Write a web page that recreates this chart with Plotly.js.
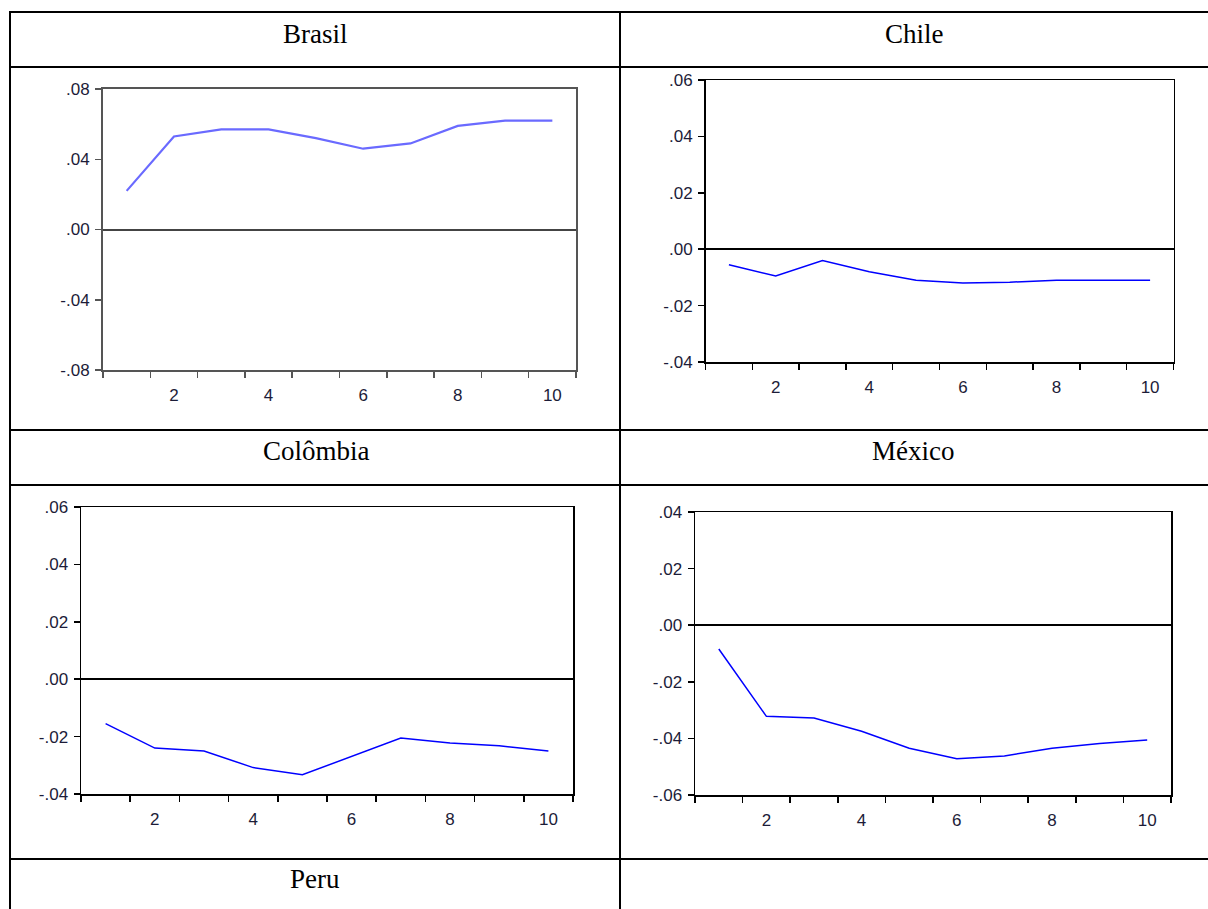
<!DOCTYPE html>
<html>
<head>
<meta charset="utf-8">
<script src="https://cdn.plot.ly/plotly-3.0.1.min.js"></script>
<style>
html,body{margin:0;padding:0;background:#fff;}
#chart{width:1208px;height:909px;}
</style>
</head>
<body>
<div id="chart"></div>
<script>
// ---- data ----
const periods = [1,2,3,4,5,6,7,8,9,10];
const brasil   = [0.022, 0.053, 0.057, 0.057, 0.052, 0.046, 0.049, 0.059, 0.062, 0.062];
const chile    = [-0.0055, -0.0095, -0.004, -0.008, -0.011, -0.012, -0.0117, -0.011, -0.011, -0.011];
const colombia = [-0.0155, -0.024, -0.025, -0.0308, -0.0333, -0.0268, -0.0205, -0.0222, -0.0232, -0.025];
const mexico   = [-0.0084, -0.0322, -0.0328, -0.0375, -0.0435, -0.0472, -0.0462, -0.0435, -0.0418, -0.0406];
const titles = ["Brasil", "Chile", "Colômbia", "México", "Peru"];
const xTickVals = [2,4,6,8,10];
const xTickText = ["2","4","6","8","10"];
const yBrasilVals = [-0.08,-0.04,0,0.04,0.08];
const yBrasilText = ["-.08","-.04",".00",".04",".08"];
const yChileVals = [-0.04,-0.02,0,0.02,0.04,0.06];
const yChileText = ["-.04","-.02",".00",".02",".04",".06"];
const yColVals = [-0.04,-0.02,0,0.02,0.04,0.06];
const yColText = ["-.04","-.02",".00",".02",".04",".06"];
const yMexVals = [-0.06,-0.04,-0.02,0,0.02,0.04];
const yMexText = ["-.06","-.04","-.02",".00",".02",".04"];

const W = 1208, H = 909;
const px = v => v / W;
const py = v => 1 - v / H;

const tickFont = {family: "Liberation Sans, Arial, sans-serif", size: 17, color: "#1c1c38"};

function xAxis(domain, lc, lw) {
  return {
    domain: domain, range: [0.5, 10.5], fixedrange: true,
    showline: true, mirror: true, linecolor: lc, linewidth: lw,
    showgrid: false, zeroline: false,
    tickmode: "array", tickvals: xTickVals, ticktext: xTickText,
    ticks: "outside", ticklen: 0, tickcolor: lc,
    ticklabelstandoff: 9,
    minor: {tick0: 0.5, dtick: 1, ticks: "outside", ticklen: 6, tickwidth: 1.5, tickcolor: lc, showgrid: false},
    tickfont: tickFont
  };
}
function yAxis(domain, range, vals, text, lc, lw, zc, zw) {
  return {
    domain: domain, range: range, fixedrange: true,
    showline: true, mirror: true, linecolor: lc, linewidth: lw,
    showgrid: false, zeroline: true, zerolinecolor: zc, zerolinewidth: zw,
    tickmode: "array", tickvals: vals, ticktext: text,
    ticks: "outside", ticklen: 6, tickwidth: 1.5, tickcolor: lc,
    ticklabelstandoff: 2,
    tickfont: tickFont
  };
}

const traces = [
  {x: periods, y: brasil, xaxis: "x", yaxis: "y", mode: "lines", line: {color: "#6a6aff", width: 2.2}, hoverinfo: "skip"},
  {x: periods, y: chile, xaxis: "x2", yaxis: "y2", mode: "lines", line: {color: "#0000ff", width: 1.5}, hoverinfo: "skip"},
  {x: periods, y: colombia, xaxis: "x3", yaxis: "y3", mode: "lines", line: {color: "#0000ff", width: 1.5}, hoverinfo: "skip"},
  {x: periods, y: mexico, xaxis: "x4", yaxis: "y4", mode: "lines", line: {color: "#0000ff", width: 1.5}, hoverinfo: "skip"}
];

const tableColor = "#000";
const tl = 2;
function hline(y, x0, x1) { return {type: "line", xref: "paper", yref: "paper", x0: px(x0), x1: px(x1), y0: py(y), y1: py(y), line: {color: tableColor, width: tl}}; }
function vline(x, y0, y1) { return {type: "line", xref: "paper", yref: "paper", x0: px(x), x1: px(x), y0: py(y0), y1: py(y1), line: {color: tableColor, width: tl}}; }

const shapes = [
  hline(12, 9, 1208), hline(67, 9, 1208), hline(430, 9, 1208), hline(485, 9, 1208), hline(859, 9, 1208),
  vline(10, 11, 909), vline(620, 11, 909)
];

const titleFont = {family: "Liberation Serif, Times New Roman, serif", size: 27, color: "#000"};
const titlePos = [[315, 34], [914, 34], [316, 451], [913, 451], [315, 879]];
const annotations = titles.map((t, i) => ({
  text: t, xref: "paper", yref: "paper", x: px(titlePos[i][0]), y: py(titlePos[i][1]),
  xanchor: "center", yanchor: "middle", showarrow: false, font: titleFont
}));

const layout = {
  width: W, height: H, margin: {l: 0, r: 0, t: 0, b: 0},
  paper_bgcolor: "#fff", plot_bgcolor: "#fff", showlegend: false,
  xaxis: xAxis([px(103), px(576)], "#555", 2),
  yaxis: yAxis([1 - 370/H, 1 - 89/H], [-0.08, 0.08], yBrasilVals, yBrasilText, "#555", 2, "#444", 2),
  xaxis2: xAxis([px(705.5), px(1173.5)], "#000", 1.5),
  yaxis2: yAxis([1 - 362/H, 1 - 80/H], [-0.04, 0.06], yChileVals, yChileText, "#000", 1.5, "#000", 1.5),
  xaxis3: xAxis([px(81), px(573)], "#000", 1.5),
  yaxis3: yAxis([1 - 794/H, 1 - 507/H], [-0.04, 0.06], yColVals, yColText, "#000", 1.5, "#000", 1.5),
  xaxis4: xAxis([px(695), px(1171)], "#000", 1.5),
  yaxis4: yAxis([1 - 795/H, 1 - 512/H], [-0.06, 0.04], yMexVals, yMexText, "#000", 1.5, "#000", 1.5),
  shapes: shapes, annotations: annotations
};
layout.yaxis.anchor = "x"; layout.xaxis.anchor = "y";
layout.yaxis2.anchor = "x2"; layout.xaxis2.anchor = "y2";
layout.yaxis3.anchor = "x3"; layout.xaxis3.anchor = "y3";
layout.yaxis4.anchor = "x4"; layout.xaxis4.anchor = "y4";

Plotly.newPlot("chart", traces, layout, {staticPlot: true, displayModeBar: false});
</script>
</body>
</html>
